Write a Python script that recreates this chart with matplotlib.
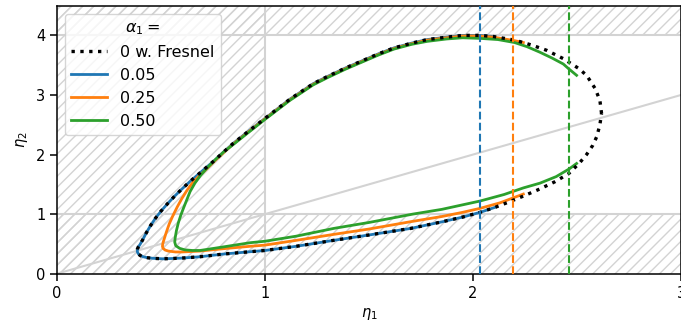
import matplotlib
matplotlib.use("Agg")
import matplotlib.pyplot as plt

# alpha_1 = 0 with Fresnel (closed loop)
fres_x = [2.618, 2.61, 2.587, 2.546, 2.506, 2.434, 2.354, 2.28, 2.202, 2.10, 2.034, 1.95,
          1.873, 1.78, 1.705, 1.62, 1.545, 1.465, 1.385, 1.30, 1.232, 1.12, 1.0, 0.92,
          0.848, 0.80, 0.76, 0.72, 0.68, 0.64, 0.60, 0.565, 0.53, 0.50, 0.473, 0.45, 0.43,
          0.412, 0.399, 0.391, 0.386, 0.385, 0.39, 0.40, 0.415, 0.435, 0.463, 0.511, 0.6,
          0.688, 0.8, 0.928, 1.0, 1.15, 1.33, 1.5, 1.7, 1.85, 1.95, 2.034, 2.106, 2.17,
          2.24, 2.32, 2.394, 2.46, 2.51, 2.546, 2.575, 2.595, 2.61, 2.618]
fres_y = [2.69, 2.91, 3.11, 3.33, 3.45, 3.61, 3.75, 3.84, 3.92, 3.98, 4.0, 4.0,
          3.97, 3.93, 3.87, 3.79, 3.69, 3.57, 3.45, 3.31, 3.19, 2.93, 2.607, 2.39,
          2.19, 2.04, 1.91, 1.79, 1.67, 1.55, 1.42, 1.30, 1.17, 1.05, 0.93, 0.81, 0.69,
          0.57, 0.49, 0.45, 0.41, 0.37, 0.335, 0.305, 0.283, 0.268, 0.258, 0.25, 0.262,
          0.285, 0.33, 0.369, 0.39, 0.46, 0.56, 0.65, 0.76, 0.87, 0.95, 1.03, 1.114, 1.20,
          1.30, 1.42, 1.544, 1.68, 1.85, 2.0, 2.15, 2.30, 2.50, 2.69]

# alpha_1 = 0.05
a005_x = [2.10, 2.034, 1.95, 1.873, 1.78, 1.705, 1.62, 1.545, 1.465, 1.385, 1.30, 1.232,
          1.12, 1.0, 0.92, 0.848, 0.80, 0.76, 0.72, 0.68, 0.64, 0.60, 0.565, 0.53, 0.50,
          0.473, 0.45, 0.43, 0.412, 0.399, 0.391, 0.387, 0.386, 0.391, 0.401, 0.416, 0.436,
          0.464, 0.511, 0.6, 0.688, 0.8, 0.928, 1.0, 1.15, 1.33, 1.5, 1.7, 1.85, 1.95,
          2.034, 2.106]
a005_y = [3.98, 4.0, 4.0, 3.97, 3.93, 3.87, 3.79, 3.69, 3.57, 3.45, 3.31, 3.19,
          2.93, 2.607, 2.39, 2.19, 2.04, 1.91, 1.79, 1.67, 1.55, 1.42, 1.30, 1.17, 1.05,
          0.93, 0.81, 0.69, 0.57, 0.49, 0.45, 0.41, 0.37, 0.335, 0.305, 0.283, 0.268,
          0.258, 0.25, 0.262, 0.285, 0.33, 0.369, 0.39, 0.46, 0.56, 0.65, 0.76, 0.87, 0.95,
          1.03, 1.114]

# alpha_1 = 0.25
a025_x = [2.242, 2.202, 2.10, 2.034, 1.95, 1.873, 1.78, 1.705, 1.62, 1.545, 1.465, 1.385,
          1.30, 1.232, 1.12, 1.0, 0.92, 0.848, 0.80, 0.76, 0.72, 0.68, 0.65, 0.625, 0.60,
          0.578, 0.558, 0.54, 0.526, 0.515, 0.509, 0.507, 0.51, 0.52, 0.535, 0.57, 0.6,
          0.688, 0.8, 0.928, 1.0, 1.15, 1.33, 1.5, 1.7, 1.85, 1.95, 2.034, 2.13, 2.242]
a025_y = [3.88, 3.91, 3.97, 3.99, 3.99, 3.96, 3.92, 3.86, 3.78, 3.68, 3.56, 3.44,
          3.30, 3.18, 2.92, 2.60, 2.38, 2.18, 2.03, 1.90, 1.76, 1.63, 1.52, 1.40, 1.26,
          1.12, 0.98, 0.84, 0.70, 0.58, 0.51, 0.46, 0.425, 0.397, 0.38, 0.365, 0.365,
          0.38, 0.42, 0.46, 0.48, 0.56, 0.66, 0.75, 0.873, 0.96, 1.03, 1.097, 1.19, 1.337]

# alpha_1 = 0.50
a050_x = [2.498, 2.46, 2.434, 2.38, 2.32, 2.26, 2.2, 2.12, 2.034, 1.95, 1.873, 1.78, 1.705,
          1.62, 1.545, 1.465, 1.385, 1.30, 1.232, 1.12, 1.0, 0.92, 0.848, 0.80, 0.76, 0.72,
          0.69, 0.663, 0.64, 0.624, 0.608, 0.595, 0.583, 0.574, 0.568, 0.566, 0.571, 0.59,
          0.615, 0.65, 0.688, 0.8, 0.928, 1.0, 1.15, 1.33, 1.5, 1.71, 1.85, 2.034, 2.15,
          2.242, 2.322, 2.40, 2.463, 2.498]
a050_y = [3.33, 3.44, 3.52, 3.62, 3.72, 3.81, 3.88, 3.93, 3.95, 3.96, 3.94, 3.90, 3.85,
          3.77, 3.67, 3.55, 3.43, 3.29, 3.17, 2.91, 2.59, 2.37, 2.17, 2.04, 1.91, 1.77,
          1.65, 1.52, 1.38, 1.24, 1.10, 0.98, 0.85, 0.72, 0.60, 0.53, 0.47, 0.425,
          0.40, 0.39, 0.39, 0.45, 0.52, 0.545, 0.63, 0.76, 0.86, 1.0, 1.08, 1.22, 1.33,
          1.44, 1.52, 1.63, 1.76, 1.85]

# vertical markers
vlines_x = [2.034, 2.191, 2.463]
colors = ["tab:blue", "tab:orange", "tab:green"]
labels = ["0.05", "0.25", "0.50"]

fig = plt.figure(figsize=(6.81, 3.26), dpi=100)
ax = fig.add_axes([0.0837, 0.1604, 0.9163, 0.8224])

# forbidden regions
hatch_kw = dict(facecolor="none", edgecolor="lightgray", hatch="///", lw=0, zorder=0)
ax.axvspan(0, 1, **hatch_kw)
ax.axhspan(0, 1, **hatch_kw)
ax.axhspan(4, 4.5, **hatch_kw)
ax.axvline(1, color="lightgray", lw=1.5, zorder=1)
ax.axhline(1, color="lightgray", lw=1.5, zorder=1)
ax.axhline(4, color="lightgray", lw=1.5, zorder=1)
ax.plot([0, 3], [0, 3], color="lightgray", lw=1.5, zorder=1)

ax.plot(fres_x, fres_y, ":", color="black", lw=2.4, label="0 w. Fresnel", zorder=4)
for xs, ys, c, lab in zip([a005_x, a025_x, a050_x], [a005_y, a025_y, a050_y], colors, labels):
    ax.plot(xs, ys, color=c, lw=2, label=lab, zorder=3)
for xv, c in zip(vlines_x, colors):
    ax.axvline(xv, color=c, ls="--", lw=1.5, zorder=5)

ax.set_xlim(0, 3)
ax.set_ylim(0, 4.5)
ax.set_xticks([0, 1, 2, 3])
ax.set_yticks([0, 1, 2, 3, 4])
ax.tick_params(labelsize=10.5, length=5, width=1.1)
for s in ax.spines.values():
    s.set_linewidth(1.1)
ax.set_xlabel(r"$\eta_1$", fontsize=10.5)
ax.set_ylabel(r"$\eta_2$", fontsize=10.5)
ax.legend(title=r"$\alpha_1 =$", loc="upper left", fontsize=11.5, title_fontsize=11.5,
          handlelength=2.25)

fig.savefig("out.png", dpi=100)
